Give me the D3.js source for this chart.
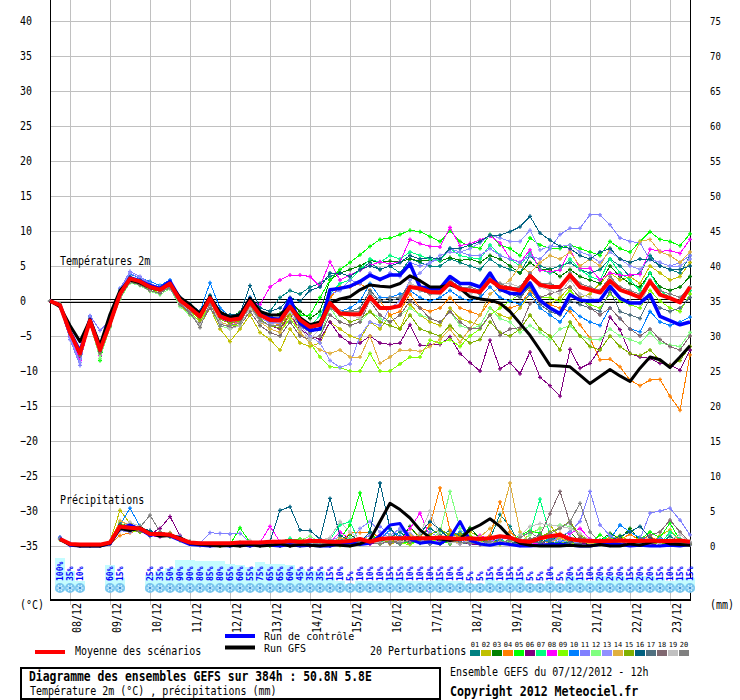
<!DOCTYPE html>
<html lang="fr">
<head>
<meta charset="utf-8">
<title>Diagramme des ensembles GEFS</title>
<script src="https://cdnjs.cloudflare.com/ajax/libs/d3/7.8.5/d3.min.js"></script>
<style>
body { margin: 0; background: #fff; }
svg text { font-family: "DejaVu Sans Mono", "Liberation Mono", monospace; }
</style>
</head>
<body>
<script>

// ---- temperatures 2m (°C), every 6h from 07/12 12h (0h) to +384h ----
var tMean = [0, -0.6, -4.5, -7.5, -2.8, -7.0, -3.2, 1.0, 3.2, 2.8, 2.0, 1.6, 2.5,
  0.1, -1.0, -2.2, 0.4, -2.2, -2.7, -2.5, -0.1, -2.0, -2.7, -2.8, -0.8, -2.7,
  -3.7, -3.4, -0.3, -1.8, -1.9, -1.9, 0.6, -1.0, -1.0, -0.7, 2.0, 1.8, 1.3,
  1.2, 2.6, 1.7, 1.5, 1.3, 3.0, 2.0, 1.8, 1.5, 3.6, 2.3, 2.0, 2.0,
  3.7, 2.0, 1.6, 1.2, 2.9, 1.6, 1.1, 0.5, 2.8, 0.9, 0.4, -0.2, 2.0];
var tControl = [0, -0.6, -4.4, -7.2, -2.6, -6.8, -3, 1.2, 3.3, 2.9, 2.2, 1.8, 2.8,
  0.3, -0.8, -2, 0.5, -1.8, -2.4, -2.1, 0.3, -1.8, -2.5, -2.6, 0.4, -3.2,
  -4.2, -4, 1.6, 1.8, 2.1, 2.8, 3.7, 3.1, 3.7, 3.7, 5.3, 2, 1.8,
  1.8, 3.5, 2.5, 2.5, 2, 4, 1.7, 1.1, 1, 2.6, 0.1, -1, -1.8,
  0.9, 0.1, 0, 0.1, 2.1, 0.4, -0.3, -0.3, 0.9, -2.2, -2.8, -3.4, -3];
var tGfs = [0, -0.8, -3.5, -5.8, -2.7, -6.3, -1.9, 1.5, 3, 2.6, 1.9, 1.6, 2.5,
  0.5, -0.5, -1.8, 0.6, -1.6, -2.3, -2, 0.4, -1.5, -2, -2, -0.8, -2.4,
  -3.4, -3, -0.3, 0.3, 0.6, 1.6, 2.3, 2.1, 2, 2.5, 3.6, 2.9, 2,
  2, 2.3, 1.8, 0.6, 0.3, 0.1, -0.3, -1.5, -3.2, -4.9, -7, -9.2, -9.3,
  -9.4, -10.6, -11.8, -10.8, -9.8, -10.7, -11.5, -9.6, -8, -8.4, -9.5, -8, -6.4];

var t01 = [0, -0.8, -5, -8, -3, -7.5, -3, 1.5, 3.5, 3, 2.2, 1.8, 2.8,
  0.5, -0.8, -2, 0.8, -1.5, -2, -2, 0.5, -1, -1.5, 0.5, 1.5, 1,
  2, 2.5, 3.5, 4, 3.5, 4.5, 5.5, 4.5, 5, 4, 6, 5.5, 5,
  5, 6, 5.5, 5, 4.5, 6, 5, 4.5, 4, 6.5, 5, 4.5, 5,
  5.5, 4.5, 4, 4.5, 6, 5, 3.5, 4, 6.5, 5, 4.5, 4, 6.5];
var t02 = [0, -0.5, -4, -7, -3, -7, -3.5, 0.5, 2.8, 2.5, 1.5, 1.2, 2.2,
  -0.5, -2, -3.5, -1, -4, -5.8, -4, -2, -4.5, -5.5, -7, -4, -6,
  -6.5, -6, -3, -4, -5, -5.5, -3, -4, -2, -4, -0.5, -2, -3,
  -3.5, -1, -2.5, -3, -3.5, -1, -2, -2.5, -1, 1, 0, -0.5, 0.5,
  2, 0.5, 1, 2.5, 4, 3, 3.5, 2.5, 5, 4, 3, 3.5, 5.5];
var t03 = [0, -0.7, -4.5, -7, -2.5, -6.5, -2.5, 1.5, 3.2, 2.5, 2, 1.5, 2.8,
  0.3, -0.5, -1.5, 0.6, -1.8, -2.2, -1.6, 0.3, -1.5, -2, -1.8, 0, -1.5,
  -2.5, -1.5, 3, 4, 4.5, 5, 5.8, 5.5, 5.7, 5.6, 6, 5.7, 5.8,
  5.7, 6.2, 5.8, 6, 5.5, 6.5, 6, 5, 4, 5.5, 4.5, 4.5, 3.5,
  4.5, 3.5, 3, 2.5, 5, 3.5, 2.5, 2, 4, 2, 1.5, 2, 3.5];
var t04 = [0, -0.6, -4.2, -7.2, -2.6, -6.8, -3, 1.2, 3.5, 3, 2.3, 1.6, 2.6,
  0.2, -0.6, -1.8, 0.2, -2.5, -3, -2.8, -0.5, -2.5, -3, -3.5, -1.5, -3,
  -4.5, -4, 0.5, 2, 2, 2.5, 1.5, 0, -2, -1.5, 1, -1, -1.5,
  -1, 0.5, -1, -1.5, -2, 0, -0.5, -1, -0.5, 1.5, 0, -0.5, -1,
  -1.5, -3.4, -5.3, -8.4, -8.3, -9.4, -11.3, -12.1, -11.3, -11.2, -13.6, -15.6, -7.7];
var t05 = [0, -0.5, -4, -7, -2.5, -8.5, -3, 1, 3, 2.4, 1.8, 1, 2.5,
  -0.2, -1.5, -2.5, 0.5, -2, -2.5, -2, -0.5, -2.5, -3, -2.5, -0.5, -2,
  -2, 0.5, 3, 4.5, 5.5, 6.6, 7.8, 8.8, 9, 9.5, 10.1, 9.9, 9.2,
  8.5, 10, 8.5, 7.8, 7.5, 9.5, 8, 7.5, 6.5, 9, 8, 7.5, 7.5,
  8, 7.5, 7, 6.5, 8.5, 7.5, 7, 8.5, 9.9, 8.8, 8.5, 7.9, 9.6];
var t06 = [0, -0.7, -4.8, -8, -3, -7.2, -3.5, 0.8, 3, 2.6, 1.8, 1.5, 2.3,
  0, -1.2, -2.5, 0, -2.5, -3, -3, -0.5, -2.8, -3.5, -4, -2, -4,
  -5, -5.5, -3, -5, -6, -6, -5, -6, -6.2, -6, -3.4, -6.3, -6.3,
  -6.2, -5.1, -7.5, -8.8, -10, -5.6, -9.7, -8.8, -10.4, -7.3, -10.9, -12.1, -13.6,
  -6.9, -9.6, -8.9, -6.8, -2.3, -4.1, -7.5, -8, -8.2, -8.9, -9.1, -9.9, -7];
var t07 = [0, -0.6, -4.3, -7.3, -2.7, -7, -3, 1.3, 3.3, 2.9, 2.2, 1.7, 2.6,
  0.4, -0.8, -2, 0.6, -1.8, -2.4, -2.2, 0.2, -1.8, -2.5, -2.5, -0.6, -2.4,
  -3.8, -2, 1, 2.5, 3, 4.5, 6, 5.5, 6.5, 6, 7, 6.5, 6,
  5.8, 7.5, 6.5, 6.2, 6, 8, 6.5, 6, 5, 7, 4.5, 4, 4.5,
  6, 4.5, 3.5, 3, 6, 4, 3, 1.5, 4, 1.5, 0.5, 0, 1.5];
var t08 = [0, -0.8, -5, -8.5, -3.2, -7.8, -3.5, 0.8, 3, 2.6, 1.8, 1.4, 2.2,
  -0.3, -1.2, -2.6, 0.2, -2.5, -3.2, -3, -0.3, -0.5, 2, 3, 3.7, 3.7,
  3.5, 2.1, 5.6, 3, 3.7, 4.4, 5.1, 5.6, 5.3, 5.6, 8.8, 8.2, 7.8,
  7.7, 10.5, 7.9, 8.2, 8.7, 9.3, 8.3, 6.1, 5.5, 7.3, 4.4, 4.2, 4.4,
  7.3, 4.7, 4.7, 3, 4, 3.7, 3.7, 3.8, 7.4, 7.1, 7.2, 6.8, 8.8];
var t09 = [0, -0.6, -4.5, -7.6, -2.9, -7.5, -3.5, 0.5, 2.8, 2.5, 1.5, 1.2, 2,
  -0.5, -1.5, -3, -0.5, -3, -3.5, -3.5, -1, -3, -4, -4.5, -2.5, -4.5,
  -6, -8, -9.4, -9.5, -10, -10, -7.5, -10, -10, -9, -8, -8, -5.6,
  -6, -5.5, -6.5, -5, -4, -2, -1, 0, 1, 2, 0.5, 0.5, 0,
  1.5, 0, -0.5, -1, 1, 0, -0.5, -1, 1.5, 0, -1, -1.5, 1];
var t10 = [0, -0.5, -4, -7, -2.2, -6.5, -2.5, 1.8, 3.8, 3.3, 2.8, 2.2, 3,
  0.5, -0.5, -1.5, 2.6, -1, -2.2, -2, 0.5, -1.5, -2.2, -2, -0.5, -2.5,
  -4, -3, 0, -1.5, -1, 0, 2.5, 0.5, 0.5, 1, 1.5, 0.5, 0,
  0.5, 1.5, 0.5, 0, 0.5, 2, 0.5, 0, -0.5, 1, -1, -2, -3,
  -1, -2.2, -3, -3.5, -1, -2.5, -4, -4.4, -1.5, -3, -3.5, -3, -2.3];
var t11 = [0, -0.9, -5.5, -9.2, -2.1, -4.2, -2.8, 1.8, 4.2, 3.5, 2.5, 2, 2.8,
  0.2, -1, -2.2, 0.3, -2.2, -3, -2.6, -0.3, -2.2, -3, -3, -1, -3,
  -4, -3.5, 1, 1.5, 3, 2.5, 4, 3, 4, 3.5, 5.5, 5, 5.5,
  6, 7.5, 7, 6.5, 6.5, 7.5, 6.5, 6, 5.5, 6.5, 6, 7.5, 9.5,
  10.4, 10.4, 12.3, 12.3, 10.9, 9, 8.5, 8.3, 5.9, 5.5, 5, 5.5, 6.5];
var t12 = [0, -0.6, -4.6, -7.8, -3.3, -8.2, -3.8, 0.3, 2.6, 2.2, 1.4, 0.9, 1.8,
  -0.8, -2, -3.2, -1, -3.5, -4, -3.5, -1.5, -3.5, -4.5, -5, -3, -5,
  -5.5, -5, -1, -3, -3.5, -3, -1.5, -2.5, -3, -2, -1, -2, -2.5,
  -3, -1.5, -3.5, -4, -3.5, -1, -2.5, -3, -4.5, -3.5, -4.5, -5.5, -4,
  -3.5, -5, -5.5, -5.5, -4, -5, -5.5, -6, -4.5, -6, -6.3, -6.5, -4.5];
var t13 = [0, -0.8, -5.2, -8.8, -2.3, -6.8, -3, 1.5, 4, 3.3, 2.4, 1.8, 2.7,
  0.1, -1.1, -2.4, 0.1, -2.4, -2.8, -2.4, -0.2, -2.4, -3.2, -3.2, -1.2, -3.5,
  -5, -6, -8.5, -9.5, -9, -5, -3, -3.5, -1, 0, 3, 4, 5.5,
  6.5, 7, 7, 7.5, 8.3, 9.4, 9, 8.5, 8.5, 10.1, 7.3, 7.8, 7.8,
  8, 7, 6.5, 5.5, 7, 6, 5, 4.5, 6, 5.5, 5, 5, 6];
var t14 = [0, -0.6, -4.4, -7.4, -2.6, -6.6, -3, 1.1, 3.2, 2.9, 2.1, 1.7, 2.4,
  0, -1.2, -2.8, 0, -3, -3.5, -3, -0.8, -3, -4, -4.5, -2, -4.5,
  -6, -7, -7.5, -7, -8, -8, -5, -8.9, -8, -7, -7, -7.2, -6.5,
  -5.5, -4, -5.9, -4, -2, 1, 2, 3, 5, 4, 5.5, 6.5, 6,
  7, 5, 6, 5, 7.5, 6, 5.5, 8.5, 8.8, 7, 6.5, 5.5, 7];
var t15 = [0, -0.6, -4.3, -7.2, -3, -7.3, -3.3, 0.7, 2.9, 2.6, 1.7, 1.4, 2.3,
  0, -1.3, -2.7, 0.2, -2.6, -3.2, -2.8, -0.6, -2.6, -3.6, -3.8, -1.8, -3.5,
  -4.5, -4, -0.5, -2, -3, -2.5, -1.5, -3, -3.5, -4, -2, -4, -4.5,
  -5, -3.5, -5, -6, -5.5, -3, -4.5, -5, -4, -2, -4, -5, -7,
  -3, -5, -6.5, -7, -5, -6.5, -7.5, -7.8, -7, -8.5, -9.2, -8.5, -6.5];
var t16 = [0, -0.7, -4.7, -7.8, -2.7, -7.2, -3, 1.2, 3.4, 3, 2.3, 1.8, 2.6,
  0.4, -0.7, -1.5, 0.8, -1.6, -2, -1.8, 2.2, -1, -1.5, -1, 0.5, 0,
  1.5, 2, 4, 4, 3.5, 4.5, 5, 4.5, 5, 5.5, 6.5, 6, 6.2,
  6, 7.5, 7.5, 8, 8.5, 9.4, 9.4, 9.9, 10.6, 12.1, 9.7, 8.7, 7.8,
  7.5, 6.5, 6, 7, 7.5, 6, 5.5, 6, 6, 5, 4.5, 4.5, 5];
var t17 = [0, -0.6, -4.4, -7.4, -2.9, -7.1, -3.2, 1, 3.1, 2.7, 1.9, 1.5, 2.4,
  0, -1, -2.3, 0.3, -2.3, -2.8, -2.6, -0.2, -2.1, -2.8, -3, -1, -2.9,
  -4, -3.5, 0, -1.5, -1.5, -1, 1.5, 0, 0, 0.5, 2.5, 2, 1.5,
  1.5, 3, 2, 1.5, 1, 3, 1.5, 1, 0.5, 2, -0.5, -1.5, -2,
  0, -0.5, -1, -1.5, 1.5, -1.5, -2, -2.5, 0.5, -1, -1.5, -1, 0.5];
var t18 = [0, -0.7, -4.6, -7.7, -3.1, -7.4, -3.6, 0.5, 2.7, 2.3, 1.5, 1.1, 2,
  -0.5, -1.8, -3.3, -1, -3.2, -3.8, -3.5, -1.5, -3.5, -4.5, -5, -3, -5,
  -5.5, -5, -2, -3, -3.5, -3, 0, -2, -3, -2, 0, -1, -2.5,
  -3, -1.5, -3, -4, -3.9, -2, -4.9, -4, -3.8, -0.4, 0.5, 1, 1.5,
  2, 0.5, -1, -2, -1, -2.5, -4, -5, -4, -5.5, -6.5, -7, -5];
var t19 = [0, -0.5, -4.1, -7, -2.7, -6.9, -3.3, 0.6, 2.9, 2.7, 1.8, 1.5, 2.2,
  -0.2, -1.5, -3.5, -0.5, -3, -4, -3.5, -1, -3, -3.5, -3, -1.5, -4,
  -5.5, -4, -1, -1.5, -2, -2.5, 0, -1, -1, -0.5, 2.5, 2, 1,
  1, 3, 1.5, 1, 1.5, 3.5, 2.5, 2.5, 2, 4, 2, 1.5, 1,
  3, 1, 0.5, 0, 2.5, 0.5, 0, -0.5, 2.5, 1, 0.5, 0, 2];
var t20 = [0, -0.6, -4.5, -7.7, -3, -7.1, -3.3, 0.9, 3, 2.7, 1.9, 1.4, 1.8,
  -0.4, -1.6, -3.8, -0.3, -3.6, -3.5, -3.2, -0.6, -2.8, -3.5, -3.5, -1, -3.5,
  -4.5, -4, -1, -2, -1.5, -1.5, 1, 0, 0.5, 0.5, 2, 1.5, 1,
  1.5, 3, 2, 2, 1.5, 3.5, 2.5, 2, 2, 4, 2.5, 2.5, 2,
  4, 2.5, 2, 1.5, 3.5, 2, 1.5, 1, 3, 1.5, 1, 0.5, 2];

// ---- precipitations (mm / 6h), from +6h to +384h ----
var pMean = [1.0, 0.3, 0.2, 0.2, 0.2, 0.5, 2.8, 2.6, 2.5, 1.7, 1.7, 1.6, 1.0, 0.5, 0.4, 0.4,
  0.4, 0.4, 0.5, 0.5, 0.5, 0.6, 0.6, 0.7, 0.6, 0.7, 0.7, 0.6, 0.6, 0.7, 1.0, 0.6,
  1.0, 1.1, 1.1, 1.1, 1.1, 1.1, 1.2, 1.1, 1.0, 1.1, 1.0, 1.1, 1.4, 1.2, 0.7, 0.6,
  1.1, 1.4, 1.6, 1.0, 0.8, 0.7, 0.7, 0.7, 0.8, 0.7, 0.7, 0.8, 0.7, 0.7, 0.8, 0.6];
var pControl = [1.1, 0.1, 0, 0, 0, 0.3, 2.5, 3.0, 2.4, 1.5, 1.8, 1.4, 0.8, 0.2, 0.1, 0,
  0.1, 0, 0.2, 0, 0.3, 0.1, 0, 0.2, 0, 0.1, 0, 0, 0.3, 0.5, 0.2, 0.4,
  1.5, 3.0, 3.2, 1.0, 0.4, 0.6, 0.3, 1.2, 3.5, 0.8, 0.3, 0.1, 0.4, 0.2, 0, 0,
  0.1, 0.2, 0.3, 0.1, 0, 0, 0.2, 0.4, 0.2, 0, 0.1, 0, 0, 0.1, 0, 0.2];
var pGfs = [0.9, 0.2, 0, 0, 0, 0.4, 2.5, 2.2, 2.6, 1.8, 1.4, 1.5, 1.2, 0.4, 0.2, 0.1,
  0, 0.1, 0, 0.2, 0, 0.1, 0.3, 0, 0.2, 0.1, 0, 0.2, 0.1, 0, 0.3, 0.9,
  3.5, 6.1, 5.2, 4.0, 2.3, 1.2, 1.0, 0.8, 1.0, 2.3, 3.0, 3.9, 2.8, 1.3, 0.4, 0.1,
  0, 0, 0, 0.1, 0, 0, 0.2, 0, 0, 0.3, 0.1, 0.5, 0.8, 0.3, 0.2, 0.1];

var p01 = [1.0, 0.2, 0, 0, 0, 0.5, 3.2, 2.8, 2.2, 1.5, 1.9, 1.4, 0.9, 0.4, 0.2, 0,
  0.1, 0, 0.3, 0.1, 0, 0.4, 0.2, 0, 0.5, 0.3, 0.1, 0, 0.2, 0.6, 0.4, 0.9,
  0.5, 1.2, 2.0, 0.8, 1.5, 2.5, 1.6, 2.2, 1.5, 0.6, 0.4, 1.0, 4.5, 2.8, 0.2, 0.5,
  1.8, 0.6, 0.3, 0.2, 0.5, 0.8, 0.3, 0.1, 0.6, 0.4, 0.2, 0.9, 0.3, 1.4, 0.5, 0.2];
var p02 = [0.9, 0.2, 0, 0, 0, 0.6, 5.1, 3.2, 2.5, 1.6, 1.4, 1.9, 1.1, 0.5, 0.1, 0,
  0, 0.1, 0, 0, 0.2, 0, 0.1, 0.3, 0, 0, 0.2, 0.5, 0.1, 0, 0.8, 1.5,
  0.9, 0.3, 0.6, 2.5, 1.4, 0.5, 0.8, 1.8, 1.2, 2.0, 1.3, 0.6, 0.2, 0.9, 0.5, 1.7,
  2.5, 3.0, 1.2, 0.4, 0.2, 0.6, 0.3, 0.8, 1.2, 0.5, 0.3, 0.2, 1.5, 2.3, 0.6, 0.4];
var p03 = [1.1, 0.3, 0, 0, 0.1, 0.4, 3.0, 2.5, 2.9, 1.8, 1.6, 1.5, 1.3, 0.6, 0.3, 0.1,
  0, 0.2, 0, 0.1, 0, 0.2, 0, 0.3, 0.6, 0.2, 0.4, 0.2, 0.9, 1.6, 0.7, 0.4,
  0.3, 1.5, 0.8, 2.8, 1.0, 0.6, 0.9, 0.3, 1.3, 2.6, 1.0, 0.4, 0.6, 0.3, 0.2, 0.8,
  0.5, 1.0, 1.3, 2.0, 0.6, 0.2, 0.8, 1.8, 1.0, 2.5, 0.7, 0.5, 0.3, 0.6, 0.9, 0.4];
var p04 = [1.0, 0.3, 0, 0, 0, 0.3, 1.5, 1.9, 2.2, 1.4, 2.0, 1.7, 1.1, 0.3, 0.2, 0,
  0.2, 0.1, 0, 0.3, 0.1, 0, 0.2, 0.4, 0.1, 0.8, 0.3, 0.6, 0.2, 1.9, 1.9, 1.9,
  1.3, 0.5, 0.8, 0.3, 1.2, 3.0, 8.3, 2.3, 1.2, 0.5, 0.8, 1.5, 6.3, 2.0, 0.8, 0.4,
  0.5, 0.2, 1.8, 0.6, 0.3, 0.8, 0.4, 1.3, 0.9, 1.7, 0.8, 1.5, 0.4, 0.2, 0.6, 0.3];
var p05 = [1.2, 0.2, 0, 0, 0, 0.5, 2.8, 2.4, 2.0, 1.9, 1.5, 1.6, 0.8, 0.5, 0.2, 0,
  0, 0.2, 2.6, 0.5, 0.3, 0, 0.5, 0.8, 1.0, 0.6, 0.3, 0.4, 1.0, 3.0, 7.6, 2.0,
  0.4, 0.8, 0.3, 0.6, 0.4, 1.0, 0.3, 0.6, 0.9, 0.4, 1.2, 0.5, 0.3, 0.8, 1.5, 2.2,
  1.8, 0.6, 0.4, 0.2, 0.8, 0.3, 1.6, 0.6, 1.0, 0.4, 0.9, 2.0, 1.2, 3.3, 0.8, 0.3];
var p06 = [1.0, 0.1, 0, 0, 0, 0.4, 2.6, 2.9, 2.3, 1.7, 2.5, 4.2, 1.5, 0.4, 0.1, 0,
  0.1, 0, 0, 0.2, 0, 0.1, 0.3, 0, 0.2, 0, 0.1, 0.3, 0.6, 0.2, 0.8, 0.3,
  0.6, 0.4, 1.2, 0.8, 0.5, 0.3, 0.9, 1.4, 0.6, 0.3, 0.2, 0.8, 0.4, 0.3, 0.1, 0.5,
  0.3, 0.8, 1.2, 0.6, 0.4, 0.2, 0.3, 0.5, 0.2, 0.6, 0.4, 0.2, 0.1, 0.3, 0.5, 0.2];
var p07 = [1.0, 0.2, 0, 0, 0, 0.5, 2.9, 2.5, 2.1, 1.8, 1.6, 1.5, 1.2, 0.4, 0.3, 0.1,
  0, 0.1, 0.5, 0.2, 0, 0.4, 0.6, 1.1, 0.4, 0.6, 0.3, 0.9, 3.0, 3.5, 0.3, 0.7,
  0.5, 1.0, 0.6, 1.6, 0.9, 0.4, 1.3, 0.5, 0.8, 1.0, 0.6, 0.3, 0.9, 0.4, 1.5, 1.8,
  6.7, 1.5, 0.8, 0.5, 1.0, 0.3, 0.8, 1.5, 0.6, 0.4, 1.0, 0.6, 0.3, 2.0, 1.0, 0.5];
var p08 = [1.1, 0.2, 0, 0, 0, 0.4, 2.5, 2.7, 2.6, 1.5, 1.3, 1.8, 1.0, 0.3, 0.2, 0,
  0.1, 0.3, 0, 0.1, 0.5, 2.8, 0.6, 0.2, 0.4, 1.0, 0.4, 0.6, 2.0, 1.0, 0.5, 0.3,
  1.6, 0.8, 0.5, 2.5, 4.7, 1.3, 0.5, 0.9, 0.3, 0.8, 1.5, 1.0, 0.4, 0.2, 0.6, 0.3,
  0.4, 0.9, 0.5, 1.8, 2.5, 1.0, 0.6, 0.4, 0.8, 0.5, 1.0, 0.7, 0.4, 0.3, 0.6, 0.2];
var p09 = [1.0, 0.2, 0, 0, 0, 0.4, 3.4, 2.2, 2.0, 1.6, 1.8, 1.3, 0.9, 0.5, 0.3, 0.1,
  0, 0, 0.2, 0, 0.1, 0, 0.3, 0.1, 0, 0.2, 0.5, 0.3, 0.1, 0.4, 0.2, 0.6,
  0.3, 0.6, 0.4, 0.2, 0.8, 0.5, 1.1, 0.4, 0.9, 1.5, 0.7, 0.3, 0.5, 0.6, 0.2, 0.4,
  0.9, 1.3, 0.5, 0.3, 0.6, 0.4, 0.2, 1.0, 1.5, 0.6, 1.2, 0.8, 0.3, 0.5, 0.4, 0.6];
var p10 = [1.2, 0.3, 0, 0, 0.1, 0.6, 3.0, 5.4, 2.8, 1.5, 1.7, 1.4, 1.0, 0.5, 0.3, 0.1,
  0.2, 0, 0.1, 0.4, 0, 0.2, 0.1, 0.5, 0.3, 0.6, 0.9, 0.4, 0.8, 1.2, 0.6, 0.5,
  1.0, 2.3, 1.4, 0.6, 0.9, 0.3, 0.6, 1.2, 2.0, 0.8, 0.4, 0.6, 0.9, 1.2, 0.5, 0.8,
  0.4, 1.0, 0.6, 1.2, 0.8, 0.5, 0.6, 1.0, 3.0, 2.0, 1.2, 0.8, 1.1, 0.7, 0.4, 0.2];
var p11 = [1.3, 0.4, 0, 0, 0, 0.3, 2.2, 2.0, 2.7, 1.9, 1.5, 1.6, 1.4, 0.6, 0.4, 1.9,
  1.8, 1.7, 1.8, 0.5, 0.3, 0.2, 0.4, 0.2, 0.1, 0.5, 0.3, 0.2, 0.6, 0.4, 0.9, 1.5,
  2.8, 1.5, 2.5, 1.0, 0.6, 2.0, 1.1, 0.5, 0.9, 0.3, 0.6, 0.4, 1.2, 0.9, 0.3, 0.6,
  0.8, 0.5, 1.4, 2.0, 3.5, 7.8, 3.0, 1.5, 0.8, 0.5, 1.0, 4.7, 5.0, 5.4, 3.7, 1.6];
var p12 = [0.9, 0.2, 0, 0, 0, 0.5, 2.4, 2.6, 2.3, 1.7, 1.9, 1.5, 1.0, 0.4, 0.2, 0,
  0.1, 0, 0.2, 0.4, 0.1, 0.3, 0.5, 0.2, 0.8, 1.4, 0.6, 0.3, 0.7, 1.2, 0.8, 1.0,
  0.6, 1.4, 0.8, 0.5, 1.2, 0.9, 2.0, 7.8, 2.5, 0.8, 0.4, 0.6, 0.3, 0.8, 0.5, 1.6,
  2.5, 3.0, 3.0, 2.8, 1.5, 0.6, 0.4, 0.3, 0.8, 0.5, 0.3, 0.6, 0.4, 0.9, 0.5, 0.3];
var p13 = [1.1, 0.3, 0, 0, 0, 0.4, 2.7, 2.3, 2.4, 1.6, 1.4, 1.7, 1.1, 0.5, 0.2, 0.1,
  0.2, 0.1, 0, 0.3, 0, 0.1, 0.4, 0.2, 0.5, 0.3, 0.2, 0.8, 1.3, 0.5, 2.5, 3.5,
  2.0, 1.2, 2.5, 1.8, 0.9, 0.5, 0.7, 1.0, 0.4, 0.6, 0.3, 0.8, 0.5, 0.2, 0.6, 0.4,
  0.5, 0.3, 0.8, 0.4, 0.6, 0.9, 0.5, 0.3, 0.8, 0.6, 0.4, 0.7, 1.0, 0.5, 0.3, 0.6];
var p14 = [1.0, 0.2, 0, 0, 0, 0.5, 3.6, 2.9, 2.4, 1.8, 1.5, 1.4, 0.9, 0.4, 0.2, 0,
  0.1, 0.2, 0, 0.3, 0.2, 0.5, 0.3, 0.1, 0.6, 0.9, 0.4, 0.3, 1.2, 0.7, 0.4, 0.8,
  0.4, 0.9, 0.5, 1.6, 1.0, 0.6, 1.4, 0.8, 0.4, 0.5, 1.3, 2.5, 3.5, 9.0, 2.0, 0.6,
  0.8, 0.4, 1.2, 0.5, 0.7, 0.3, 0.6, 1.0, 0.4, 0.8, 0.5, 0.9, 0.6, 0.4, 0.7, 0.3];
var p15 = [1.0, 0.2, 0, 0, 0, 0.4, 2.9, 2.6, 2.0, 1.7, 1.6, 1.8, 1.1, 0.6, 0.3, 0.1,
  0, 0.1, 0.3, 0, 0.2, 0.1, 0, 0.4, 0.2, 0.3, 0.6, 0.2, 0.5, 0.3, 0.6, 0.4,
  0.8, 0.5, 1.1, 0.6, 0.9, 1.6, 2.4, 1.5, 1.8, 1.2, 0.6, 0.4, 0.8, 0.3, 0.5, 1.0,
  1.2, 2.0, 2.6, 3.5, 1.5, 0.8, 0.5, 0.3, 0.6, 0.4, 0.8, 0.5, 0.3, 0.6, 0.4, 0.2];
var p16 = [1.1, 0.3, 0, 0, 0, 0.4, 3.1, 2.4, 2.6, 2.2, 1.6, 1.6, 1.2, 0.5, 0.2, 0.1,
  0.3, 0.1, 0.2, 0.4, 0.3, 0.6, 5.1, 5.6, 2.3, 2.2, 1.0, 6.8, 1.5, 0.8, 0.5, 2.0,
  9.0, 2.5, 1.0, 0.6, 1.8, 3.5, 2.3, 1.0, 0.6, 0.4, 0.8, 1.2, 0.5, 0.3, 0.6, 0.4,
  0.8, 0.5, 0.3, 0.6, 1.0, 0.7, 0.4, 0.8, 1.4, 2.0, 2.8, 1.2, 0.6, 0.4, 0.8, 0.5];
var p17 = [1.0, 0.2, 0, 0, 0, 0.3, 2.6, 2.8, 2.5, 1.4, 1.7, 1.5, 1.0, 0.4, 0.2, 0,
  0.1, 0, 0.2, 0.1, 0, 0.3, 0.1, 0.4, 0.2, 0.1, 0.5, 0.3, 0.4, 0.2, 0.6, 0.9,
  1.2, 0.6, 0.3, 1.0, 0.5, 0.8, 1.4, 0.6, 0.3, 0.5, 0.9, 0.4, 0.7, 0.5, 0.3, 0.6,
  0.4, 0.8, 1.6, 0.5, 0.3, 0.9, 0.6, 0.4, 1.0, 0.6, 0.3, 0.5, 0.8, 0.4, 0.6, 0.3];
var p18 = [1.0, 0.2, 0, 0, 0, 0.4, 2.5, 2.2, 2.1, 1.5, 1.5, 1.4, 1.0, 0.5, 0.2, 0,
  0.2, 0.1, 0, 0.3, 0.1, 0.2, 0.4, 0.2, 0.5, 0.3, 0.2, 0.6, 0.3, 0.5, 0.4, 0.8,
  0.6, 0.4, 0.8, 0.5, 1.0, 0.6, 0.3, 0.9, 0.5, 0.4, 0.8, 0.6, 0.4, 0.9, 0.8, 1.0,
  1.5, 4.6, 7.8, 3.3, 1.2, 0.8, 0.6, 0.4, 0.8, 0.5, 1.0, 1.5, 2.0, 3.7, 2.0, 0.5];
var p19 = [1.0, 0.2, 0, 0, 0, 0.4, 2.6, 3.4, 2.8, 1.5, 1.4, 1.5, 1.1, 0.5, 0.2, 0.1,
  0.2, 0.3, 0.5, 0.8, 0.4, 0.2, 0.3, 0.6, 0.4, 0.2, 0.8, 1.2, 3.5, 2.0, 1.0, 0.6,
  0.4, 1.0, 0.6, 0.8, 1.8, 5.0, 1.2, 0.6, 0.3, 0.8, 0.5, 0.4, 0.6, 0.3, 1.5, 2.8,
  3.2, 3.0, 2.8, 2.5, 1.8, 0.8, 0.5, 0.3, 0.4, 0.6, 0.3, 0.5, 0.4, 0.8, 1.6, 0.6];
var p20 = [1.0, 0.2, 0, 0, 0, 0.5, 2.8, 2.9, 2.7, 4.4, 2.0, 1.6, 1.2, 0.6, 0.2, 0.1,
  0.1, 0.2, 0.1, 0, 0.3, 0.2, 0.1, 0.4, 0.3, 0.2, 0.5, 0.3, 0.6, 0.4, 0.3, 0.5,
  0.3, 0.6, 0.4, 0.8, 0.5, 0.3, 0.6, 0.9, 0.5, 0.4, 0.3, 0.6, 0.5, 0.8, 1.2, 2.0,
  1.0, 1.8, 2.5, 3.5, 6.1, 2.0, 0.6, 0.4, 0.3, 0.8, 0.5, 0.3, 0.6, 0.4, 0.8, 0.3];

// ---- probabilité de neige (%), from +6h to +384h, 0 = none ----
var snowPct = [100, 35, 10, 0, 0, 60, 15, 0, 0, 25, 35, 50, 90, 90, 80, 85,
  80, 65, 60, 55, 75, 65, 65, 60, 45, 35, 35, 15, 10, 5, 10, 10,
  10, 15, 15, 10, 10, 10, 15, 10, 10, 5, 5, 15, 10, 15, 15, 5,
  5, 10, 5, 20, 15, 10, 20, 20, 20, 15, 20, 20, 15, 10, 15, 15];

var dayLabels = ["08/12", "09/12", "10/12", "11/12", "12/12", "13/12", "14/12", "15/12",
  "16/12", "17/12", "18/12", "19/12", "20/12", "21/12", "22/12", "23/12"];
var tTicks = [-35, -30, -25, -20, -15, -10, -5, 0, 5, 10, 15, 20, 25, 30, 35, 40];
var pTicks = [0, 5, 10, 15, 20, 25, 30, 35, 40, 45, 50, 55, 60, 65, 70, 75];
var pertNames = ["01", "02", "03", "04", "05", "06", "07", "08", "09", "10",
  "11", "12", "13", "14", "15", "16", "17", "18", "19", "20"];
var pertColors = ["#008080", "#c0c000", "#008000", "#ff8000", "#00ff00", "#800080", "#00ff80",
  "#ff00ff", "#80ff00", "#0080ff", "#8080ff", "#80ff80", "#9090ff", "#e0b040", "#80b000",
  "#006080", "#507080", "#806870", "#c0c0c0", "#808080"];

var tPerts = [t01, t02, t03, t04, t05, t06, t07, t08, t09, t10,
  t11, t12, t13, t14, t15, t16, t17, t18, t19, t20];
var pPerts = [p01, p02, p03, p04, p05, p06, p07, p08, p09, p10,
  p11, p12, p13, p14, p15, p16, p17, p18, p19, p20];

// time steps (hours since 07/12 12h)
var tHours = d3.range(0, 385, 6);
var pHours = d3.range(6, 385, 6);
var dayHours = dayLabels.map(function(d, k) { return 12 + 24 * k; });

var w = 740, h = 700;
// the bitmap font of the original is taller than DejaVu: stretch text vertically
var tall = " scale(1,1.22)";

var x = d3.scaleLinear().domain([0, 384]).range([50, 690]);
var yT = d3.scaleLinear().domain([-35, 40]).range([546, 21]);
var yP = d3.scaleLinear().domain([0, 75]).range([546, 21]);
var barH = d3.scaleSqrt().domain([0, 100]).range([0, 33]);

var svg = d3.select("body").append("svg")
  .attr("width", w)
  .attr("height", h);

// horizontal grid
svg.append("g")
  .attr("transform", "translate(50,0)")
  .call(d3.axisLeft(yT).tickValues(tTicks).tickSize(-640).tickFormat(""))
  .call(function(g) { g.select(".domain").remove(); })
  .selectAll("line")
  .attr("stroke", "#c0c0c0")
  .attr("shape-rendering", "crispEdges");

// vertical grid (one line per day, runs a bit below the frame)
svg.append("g")
  .attr("transform", "translate(0,605)")
  .call(d3.axisBottom(x).tickValues(dayHours).tickSize(-605).tickFormat(""))
  .call(function(g) { g.select(".domain").remove(); })
  .selectAll("line")
  .attr("stroke", "#c0c0c0")
  .attr("shape-rendering", "crispEdges");

// left / right labels
svg.append("g")
  .attr("transform", "translate(50,0)")
  .call(d3.axisLeft(yT).tickValues(tTicks).tickSize(0))
  .call(function(g) { g.select(".domain").remove(); })
  .selectAll("text")
  .attr("x", -30)
  .attr("dy", "0.3em")
  .attr("transform", "scale(1,1.2)")
  .attr("text-anchor", "start")
  .attr("font-size", 10)
  .attr("font-family", "DejaVu Sans Mono")
  .attr("fill", "#000");

svg.append("g")
  .attr("transform", "translate(690,0)")
  .call(d3.axisRight(yP).tickValues(pTicks).tickSize(0))
  .call(function(g) { g.select(".domain").remove(); })
  .selectAll("text")
  .attr("x", 20)
  .attr("dy", "0.3em")
  .attr("transform", "scale(1,1.2)")
  .attr("text-anchor", "start")
  .attr("font-size", 9)
  .attr("font-family", "DejaVu Sans Mono")
  .attr("fill", "#000");

// frame
var frame = svg.append("g").attr("stroke", "#000").attr("shape-rendering", "crispEdges");
frame.append("line").attr("x1", 50.5).attr("x2", 50.5).attr("y1", 0).attr("y2", 601);
frame.append("line").attr("x1", 690.5).attr("x2", 690.5).attr("y1", 0).attr("y2", 601);
frame.append("line").attr("x1", 50).attr("x2", 691).attr("y1", 600).attr("y2", 600).attr("stroke-width", 2);

// double zero line
[-1.5, 1.5].forEach(function(off) {
  frame.append("line")
    .attr("x1", 50).attr("x2", 690)
    .attr("y1", yT(0) + off).attr("y2", yT(0) + off);
});

// snow probability: cyan bars, flakes, percentages
var snow = svg.append("g");
var snowSteps = pHours.map(function(hr, i) { return { hr: hr, p: snowPct[i] }; })
  .filter(function(d) { return d.p > 0; });

snow.selectAll("rect")
  .data(snowSteps)
  .enter()
  .append("rect")
  .attr("x", function(d) { return x(d.hr) - 5; })
  .attr("width", 10)
  .attr("y", function(d) { return 591 - barH(d.p); })
  .attr("height", function(d) { return barH(d.p); })
  .attr("fill", "#c4fcff")
  .attr("shape-rendering", "crispEdges");

var flake = snow.selectAll("g.flake")
  .data(snowSteps)
  .enter()
  .append("g")
  .attr("class", "flake")
  .attr("transform", function(d) { return "translate(" + x(d.hr) + ",588)"; });
flake.append("circle")
  .attr("r", 5)
  .attr("fill", "#78c4ee");
[0, 60, 120].forEach(function(a) {
  flake.append("line")
    .attr("x1", -3.5).attr("x2", 3.5)
    .attr("transform", "rotate(" + a + ")")
    .attr("stroke", "#d8f4ff")
    .attr("stroke-width", 1.2);
});
flake.append("circle")
  .attr("r", 1.2)
  .attr("fill", "#3d8fd8");

snow.selectAll("text")
  .data(snowSteps)
  .enter()
  .append("text")
  .attr("transform", function(d) { return "translate(" + (x(d.hr) + 3) + ",581) rotate(-90)"; })
  .attr("font-size", 8)
  .attr("font-weight", "bold")
  .attr("fill", "#0000ff")
  .text(function(d) { return d.p + "%"; });

// line generators
var tLine = d3.line()
  .x(function(d, i) { return x(tHours[i]); })
  .y(function(d) { return yT(d); });
var pLine = d3.line()
  .x(function(d, i) { return x(pHours[i]); })
  .y(function(d) { return yP(d); });

var cross = d3.symbol().type(d3.symbolCross).size(9);

function drawMember(values, hours, yScale, gen, color) {
  var g = svg.append("g");
  g.append("path")
    .attr("d", gen(values))
    .attr("fill", "none")
    .attr("stroke", color)
    .attr("stroke-width", 1)
    .attr("shape-rendering", "crispEdges");
  g.selectAll("path.pt")
    .data(values)
    .enter()
    .append("path")
    .attr("class", "pt")
    .attr("d", cross)
    .attr("fill", color)
    .attr("transform", function(d, i) {
      return "translate(" + x(hours[i]) + "," + yScale(d) + ")";
    });
}

pPerts.forEach(function(vals, k) { drawMember(vals, pHours, yP, pLine, pertColors[k]); });
tPerts.forEach(function(vals, k) { drawMember(vals, tHours, yT, tLine, pertColors[k]); });

function drawMain(values, gen, color, width) {
  svg.append("path")
    .attr("d", gen(values))
    .attr("fill", "none")
    .attr("stroke", color)
    .attr("stroke-width", width)
    .attr("stroke-linejoin", "round");
}

drawMain(pControl, pLine, "#0000ff", 3);
drawMain(pGfs, pLine, "#000000", 3);
drawMain(pMean, pLine, "#ff0000", 4);
drawMain(tControl, tLine, "#0000ff", 3.5);
drawMain(tGfs, tLine, "#000000", 3);
drawMain(tMean, tLine, "#ff0000", 4);

// date labels
svg.append("g")
  .selectAll("text")
  .data(dayLabels)
  .enter()
  .append("text")
  .attr("transform", function(d, k) { return "translate(" + (x(dayHours[k]) + 11) + ",603) rotate(-90)" + tall; })
  .attr("text-anchor", "end")
  .attr("font-size", 10)
  .text(function(d) { return d; });

// texts
function label(txt, xx, yy, size, bold, stretch) {
  svg.append("text")
    .attr("transform", "translate(" + xx + "," + yy + ")" + (stretch === false ? "" : tall))
    .attr("font-size", size)
    .attr("font-weight", bold ? "bold" : "normal")
    .text(txt);
}
label("Températures 2m", 60, 265, 10);
label("Précipitations", 60, 504, 10);
label("(°C)", 20, 609, 10);
label("(mm)", 710, 609, 10);

// legend
var leg = svg.append("g").attr("stroke-width", 4);
leg.append("line").attr("x1", 35).attr("x2", 65).attr("y1", 652).attr("y2", 652).attr("stroke", "#ff0000");
leg.append("line").attr("x1", 225).attr("x2", 255).attr("y1", 636).attr("y2", 636).attr("stroke", "#0000ff");
leg.append("line").attr("x1", 225).attr("x2", 255).attr("y1", 647.5).attr("y2", 647.5).attr("stroke", "#000000");
label("Moyenne des scénarios", 75, 655, 10);
label("Run de contrôle", 264, 639.5, 10, false, false);
label("Run GFS", 264, 651.5, 10, false, false);
label("20 Perturbations", 370, 655, 10);

var boxes = svg.append("g");
boxes.selectAll("rect")
  .data(pertNames)
  .enter()
  .append("rect")
  .attr("x", function(d, k) { return 470 + 11 * k; })
  .attr("y", 650)
  .attr("width", 10)
  .attr("height", 6)
  .attr("fill", function(d, k) { return pertColors[k]; });
boxes.selectAll("text")
  .data(pertNames)
  .enter()
  .append("text")
  .attr("x", function(d, k) { return 475 + 11 * k; })
  .attr("y", 647)
  .attr("text-anchor", "middle")
  .attr("font-size", 7)
  .text(function(d) { return d; });

// title box
svg.append("rect")
  .attr("x", 21).attr("y", 668)
  .attr("width", 419).attr("height", 31)
  .attr("fill", "none")
  .attr("stroke", "#000")
  .attr("stroke-width", 2);
label("Diagramme des ensembles GEFS sur 384h : 50.8N 5.8E", 29, 680.5, 11.4, true);
label("Température 2m (°C) , précipitations (mm)", 30, 695, 10);
label("Ensemble GEFS du 07/12/2012 - 12h", 450, 675.5, 10);
label("Copyright 2012 Meteociel.fr", 450, 695.5, 11.6, true);

</script>
</body>
</html>
